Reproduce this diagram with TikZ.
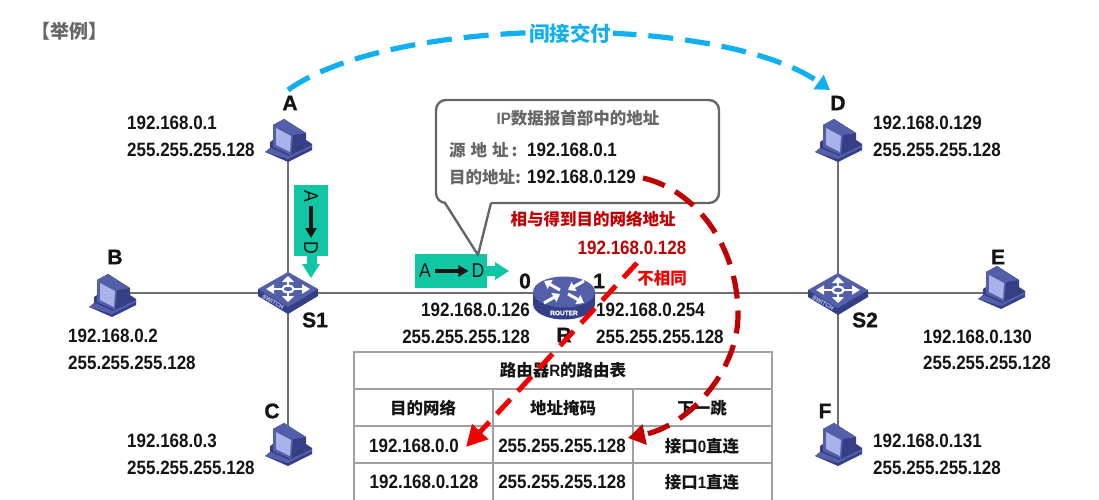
\documentclass[tikz,border=0pt]{standalone}
\usepackage{fontspec}
\setmainfont{Liberation Sans}[FakeStretch=0.88]
\newfontfamily\heavy{Liberation Sans Bold}[FakeBold=1.2]
\newfontfamily\latinb{Liberation Sans Bold}[FakeStretch=0.92]
\newfontfamily\cjk{Noto Sans CJK SC}
\usetikzlibrary{arrows.meta,calc}
\definecolor{txt}{HTML}{141414}
\definecolor{wire}{HTML}{6E6E6E}
\definecolor{boxgray}{HTML}{666666}
\definecolor{teal}{HTML}{10C6A4}
\definecolor{sky}{HTML}{10B0F0}
\definecolor{dred}{HTML}{C00000}
\definecolor{bred}{HTML}{F00000}
\definecolor{navy}{HTML}{343F86}
\definecolor{midb}{HTML}{545FAA}
\definecolor{lightb}{HTML}{AAB2EA}
\definecolor{paleb}{HTML}{9AA2D8}
\definecolor{grid}{HTML}{A0A0A0}
\newcommand{\fs}[1]{\fontsize{#1}{#1}\selectfont}
\tikzset{
  ip/.style={font=\fs{19.3}\bfseries, text=txt, inner sep=0pt, anchor=west},
  ipr/.style={ip, anchor=east},
  cell/.style={ip, anchor=center},
  letter/.style={font=\fs{21}\heavy, text=txt, inner sep=0pt},
  cn/.style={font=\fs{16.5}\cjk\bfseries, text=txt, inner sep=0pt},
  cng/.style={cn, text=boxgray},
  pkt/.style={font=\fs{20}, text=txt, inner sep=0pt},
  link/.style={draw=wire, line width=2.5pt},
  rule/.style={draw=grid, line width=1.4pt},
  pc/.pic={
    \fill[navy] (-23,10) -- (-18,6) -- (-18,0) -- (-15,-2) -- (18,-2) -- (24,2) -- (24,8) -- (0,20) -- cycle;
    \fill[midb] (-23,10) -- (-17,6) -- (1,14) -- (24,3) -- (24,5) -- (0,17) -- cycle;
    \fill[navy] (-15,-17) -- (-4,-23) -- (18,-9) -- (18,5) -- (2,13) -- (-15,5) -- cycle;
    \fill[midb] (-15,-17) -- (-4,-23) -- (18,-9) -- (5,-7) -- cycle;
    \fill[midb] (-15,-17) -- (5,-7) -- (3,13) -- (-15,5) -- cycle;
    \fill[lightb] (-12,-14) -- (3,-6) -- (2,10) -- (-12,3) -- cycle;
  },
  swt/.pic={
    \fill[navy] (-30,0) -- (-30,7) -- (0,25) -- (30,7) -- (30,0) -- cycle;
    \fill[midb] (-30,0) -- (0,-17) -- (30,0) -- (0,18) -- cycle;
    \draw[white, line width=2.2pt] (0,0) ellipse (5.5 and 3.5);
    \draw[white, line width=2.6pt, -{Triangle[width=12pt,length=6pt]}] (0,-4) -- (0,-13);
    \draw[white, line width=2.6pt, -{Triangle[width=12pt,length=6pt]}] (0,4) -- (0,13);
    \draw[white, line width=2.6pt, -{Triangle[width=9pt,length=8pt]}] (-6,0) -- (-22,0);
    \draw[white, line width=2.6pt, -{Triangle[width=9pt,length=8pt]}] (6,0) -- (22,0);
    \node[text=paleb, font=\fs{6}\heavy, inner sep=0pt, rotate=-30] at (-15,12.5) {SWITCH};
  },
  rtr/.pic={
    \fill[navy] (-31,0) -- (-31,12) arc[start angle=180,end angle=0,x radius=31,y radius=15.5] -- (31,0) -- cycle;
    \fill[midb] (0,0) ellipse (31 and 15.5);
    \foreach \sx/\sy/\rev in {1/1/0,-1/1/1,1/-1/1,-1/-1/0}{
      \draw[white, line width=3pt, -{Triangle[width=10pt,length=7pt]}]
        ({\sx*(4+16*\rev)},{\sy*(2+9*\rev)}) -- ({\sx*(20-16*\rev)},{\sy*(11-9*\rev)});
    }
    \node[text=white, font=\fs{6.5}\heavy, inner sep=0pt] at (0,21) {ROUTER};
  },
}
\begin{document}
\begin{tikzpicture}[x=1pt,y=-1pt]
\useasboundingbox (0,0) rectangle (1099,500);
% anchors
\coordinate (A) at (288,142);
\coordinate (B) at (112,293);
\coordinate (C) at (288,446);
\coordinate (D) at (838,142);
\coordinate (E) at (1001,293);
\coordinate (F) at (838,446);
\coordinate (S1) at (288,293);
\coordinate (S2) at (838,293);
\coordinate (R) at (564,293);
% links
\draw[link] (A) -- (S1);
\draw[link] (C) -- (S1);
\draw[link] (B) -- (S1);
\draw[link] (D) -- (S2);
\draw[link] (F) -- (S2);
\draw[link] (E) -- (S2);
\draw[link] (S1) -- (R);
\draw[link] (R) -- (S2);
% icons
\pic at (A) {pc};
\pic at ($(B)+(0,4)$) {pc};
\pic at (C) {pc};
\pic at (D) {pc};
\pic at ($(E)+(0,-4)$) {pc};
\pic at (F) {pc};
\pic at ($(S1)+(0,-4)$) {swt};
\pic at ($(S2)+(0,-3)$) {swt};
\pic at ($(R)+(0,-1)$) {rtr};
% title
\node[font=\fs{19}\cjk\bfseries, text=boxgray, inner sep=0pt] (title) at (69,31) {【举例】};
% letters
\node[letter] (la) at (290,103) {A};
\node[letter] (lb) at (115,257) {B};
\node[letter] (lc) at (272,411) {C};
\node[letter] (ld) at (838,103) {D};
\node[letter] (le) at (998,257) {E};
\node[letter] (lf) at (825,411) {F};
\node[letter] (ls1) at (315,320) {S1};
\node[letter] (ls2) at (865,320) {S2};
\node[letter] (lr) at (564,335) {R};
\node[letter] (l0) at (525,281) {0};
\node[letter] (l1) at (599,281) {1};
% addresses
\node[ip] (a1) at (127,123) {192.168.0.1};
\node[ip] (a2) at (127,150) {255.255.255.128};
\node[ip] (b1) at (68,336) {192.168.0.2};
\node[ip] (b2) at (68,363) {255.255.255.128};
\node[ip] (c1) at (127,441) {192.168.0.3};
\node[ip] (c2) at (127,468) {255.255.255.128};
\node[ip] (d1) at (873,123) {192.168.0.129};
\node[ip] (d2) at (873,150) {255.255.255.128};
\node[ip] (e1) at (923,337) {192.168.0.130};
\node[ip] (e2) at (923,363) {255.255.255.128};
\node[ip] (f1) at (873,441) {192.168.0.131};
\node[ip] (f2) at (873,468) {255.255.255.128};
\node[ipr] (r01) at (530,310) {192.168.0.126};
\node[ipr] (r02) at (530,337) {255.255.255.128};
\node[ip] (r11) at (596,310) {192.168.0.254};
\node[ip] (r12) at (596,337) {255.255.255.128};
% packet boxes
\fill[teal] (294,185) rectangle (328,256);
\fill[teal] (307,255) -- (317,255) -- (317,264) -- (320,264) -- (311,278) -- (302,264) -- (307,264) -- cycle;
\node[pkt, rotate=-90] (va) at (311,196) {A};
\node[pkt, rotate=-90] (vd) at (311,248) {D};
\draw[line width=3.2pt, txt, -{Triangle[width=11pt,length=10pt]}] (311,206) -- (311,238);
\fill[teal] (415,254) rectangle (487,288);
\fill[teal] (486,266) -- (495,266) -- (495,262) -- (509,271) -- (495,280) -- (495,276) -- (486,276) -- cycle;
% callout
\draw[boxgray, line width=2.4pt, fill=white, rounded corners=10pt]
  (445,203) -- (436,203) -- (436,100) -- (719,100) -- (719,203) -- (491,203);
\fill[white] (446,200) -- (478,255) -- (491,200) -- cycle;
\draw[boxgray, line width=2.4pt, line join=round] (445,203) -- (478,255) -- (491,203);
\node[pkt] (ha) at (425,271) {A};
\node[pkt] (hd) at (478,271) {D};
\draw[line width=3.2pt, txt, -{Triangle[width=11pt,length=10pt]}] ($(ha.east)+(4,0)$) -- ($(hd.west)+(-3,0)$);
\node[cng] (ct) at (578,118) {{\latinb IP}数据报首部中的地址};
\node[cng, anchor=west] (src) at (449,150) {源\hspace{5pt}地\hspace{5pt}址\hspace{3pt}:};
\node[cng, anchor=west] (dst) at (449,177) {目的地址:};
\node[ip] (srcip) at (527,150) {192.168.0.1};
\node[ip] (dstip) at (527,177) {192.168.0.129};
% red labels
\node[cn, text=dred] (and) at (593,219) {相与得到目的网络地址};
\node[ip, anchor=center, text=dred] (net) at (632,248) {192.168.0.128};
\node[cn, text=bred] (ne) at (662,278) {不相同};
% table
\draw[rule] (354,500) -- (354,352) -- (772,352) -- (772,500);
\draw[rule] (354,389) -- (772,389);
\draw[rule] (354,426) -- (772,426);
\draw[rule] (354,463) -- (772,463);
\draw[rule] (493,389) -- (493,500);
\draw[rule] (633,389) -- (633,500);
\node[cn] (t0) at (563,370) {路由器{\latinb R}的路由表};
\node[cn] (h1) at (423,408) {目的网络};
\node[cn] (h2) at (563,408) {地址掩码};
\node[cn] (h3) at (702,408) {下一跳};
\node[cell] (c11) at (414,446) {192.168.0.0};
\node[cell] (c12) at (562,446) {255.255.255.128};
\node[cn] (c13) at (702,446) {接口{\latinb 0}直连};
\node[cell] (c21) at (424,482) {192.168.0.128};
\node[cell] (c22) at (562,482) {255.255.255.128};
\node[cn] (c23) at (702,482) {接口{\latinb 1}直连};
% dashed arrows
\coordinate (bs) at (288,90);
\coordinate (be) at (830,90);
\draw[sky, line width=5.2pt, dash pattern=on 25pt off 12pt, -{Triangle[width=17pt,length=14pt]}]
  (bs) .. controls (395,14) and (722,14) .. (be);
\node[font=\fs{20.5}\cjk\bfseries, text=sky, fill=white, inner sep=2pt] (ind) at (570,34) {间接交付};
\coordinate (rs) at (643,178);
\coordinate (rm) at (738,315);
\coordinate (re) at (628,438);
\draw[dred, line width=5.2pt, dash pattern=on 23pt off 12pt, -{Triangle[width=20pt,length=17pt]}]
  (rs) .. controls (695,190) and (738,245) .. (rm) .. controls (738,370) and (690,425) .. (re);
\coordinate (gs) at (637,263);
\coordinate (ge) at (466,447);
\draw[bred, line width=5pt, dash pattern=on 20pt off 11pt, -{Triangle[width=21pt,length=21pt]}] (gs) -- (ge);
\end{tikzpicture}
\end{document}
